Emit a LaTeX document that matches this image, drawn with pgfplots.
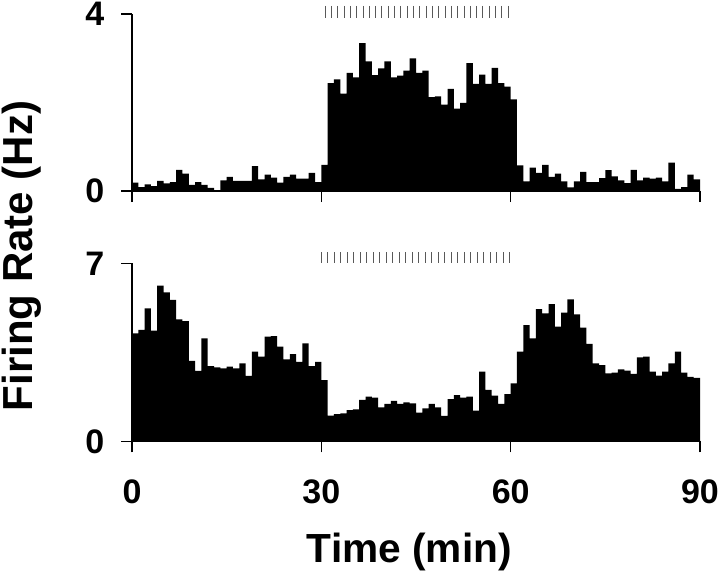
\documentclass[border=0pt]{standalone}
\usepackage{fontspec}
\setmainfont{Liberation Sans}
\setsansfont{Liberation Sans}
\usepackage{pgfplots}
\pgfplotsset{compat=1.18}
\begin{document}
\begin{tikzpicture}
\useasboundingbox (0,0) rectangle (540pt,-430.5pt);
\pgfplotsset{
  panel/.style={
    anchor=south west, width=426pt, scale only axis,
    xmin=0, xmax=90,
    axis x line*=bottom, axis y line*=left,
    xtick={0,30,60,90},
    tick align=outside, major tick length=8.25pt,
    axis line style={line width=1.1pt},
    tick style={line width=1.1pt, black},
    clip=false, axis on top,
    tick label style={font=\fontsize{25.5}{26}\selectfont\bfseries},
    yticklabel style={xshift=-9pt},
    xticklabel style={yshift=-17pt},
  }
}
% top panel
\begin{axis}[panel, at={(99pt,-143.25pt)}, height=132.75pt,
  ymin=0, ymax=4, ytick={0,4}, yticklabels={0,4}, xticklabels={}]
\addplot[fill=black, draw=none, const plot] coordinates {
(0,0.19)(1,0.09)(2,0.15)(3,0.11)(4,0.23)(5,0.17)(6,0.20)(7,0.48)(8,0.39)(9,0.14)
(10,0.20)(11,0.14)(12,0.07)(13,0.02)(14,0.24)(15,0.32)(16,0.23)(17,0.23)(18,0.23)(19,0.56)
(20,0.26)(21,0.37)(22,0.30)(23,0.19)(24,0.32)(25,0.37)(26,0.28)(27,0.28)(28,0.41)(29,0.20)
(30,0.59)(31,2.44)(32,2.52)(33,2.20)(34,2.67)(35,2.57)(36,3.34)(37,2.93)(38,2.62)(39,2.77)
(40,2.93)(41,2.57)(42,2.61)(43,2.72)(44,3.00)(45,2.67)(46,2.72)(47,2.12)(48,2.14)(49,1.95)
(50,2.31)(51,1.86)(52,1.99)(53,2.89)(54,2.42)(55,2.63)(56,2.42)(57,2.78)(58,2.44)(59,2.36)
(60,2.07)(61,0.58)(62,0.22)(63,0.53)(64,0.41)(65,0.59)(66,0.32)(67,0.39)(68,0.22)(69,0.08)
(70,0.22)(71,0.43)(72,0.20)(73,0.20)(74,0.29)(75,0.47)(76,0.33)(77,0.24)(78,0.18)(79,0.48)
(80,0.24)(81,0.30)(82,0.28)(83,0.30)(84,0.22)(85,0.64)(86,0.05)(87,0.09)(88,0.37)(89,0.26)
(90,0.26)} \closedcycle;
\addplot[only marks, mark=|, mark size=4.5pt, mark options={line width=0.7pt, draw=black!65}] coordinates {
(30.6,4.05)(31.6,4.05)(32.6,4.05)(33.6,4.05)(34.6,4.05)(35.6,4.05)(36.6,4.05)(37.6,4.05)(38.6,4.05)(39.6,4.05)
(40.6,4.05)(41.6,4.05)(42.6,4.05)(43.6,4.05)(44.6,4.05)(45.6,4.05)(46.6,4.05)(47.6,4.05)(48.6,4.05)(49.6,4.05)
(50.6,4.05)(51.6,4.05)(52.6,4.05)(53.6,4.05)(54.6,4.05)(55.6,4.05)(56.6,4.05)(57.6,4.05)(58.6,4.05)(59.6,4.05)};
\end{axis}
% bottom panel
\begin{axis}[panel, at={(99pt,-331pt)}, height=133.5pt,
  ymin=0, ymax=7, ytick={0,7}, yticklabels={0,7}, xticklabels={0,30,60,90}]
\addplot[fill=black, draw=none, const plot] coordinates {
(0,4.25)(1,4.38)(2,5.23)(3,4.35)(4,6.12)(5,5.86)(6,5.56)(7,4.80)(8,4.73)(9,3.16)
(10,2.77)(11,4.05)(12,2.96)(13,2.91)(14,2.87)(15,2.94)(16,2.87)(17,3.07)(18,2.57)(19,3.53)
(20,3.33)(21,4.12)(22,4.14)(23,3.72)(24,3.22)(25,3.43)(26,3.13)(27,3.85)(28,2.96)(29,3.13)
(30,2.41)(31,1.01)(32,1.07)(33,1.10)(34,1.23)(35,1.26)(36,1.63)(37,1.76)(38,1.72)(39,1.34)
(40,1.47)(41,1.59)(42,1.47)(43,1.53)(44,1.49)(45,1.13)(46,1.30)(47,1.47)(48,1.34)(49,1.00)
(50,1.66)(51,1.82)(52,1.72)(53,1.76)(54,1.21)(55,2.74)(56,2.02)(57,1.80)(58,1.47)(59,1.86)
(60,2.28)(61,3.53)(62,4.57)(63,4.05)(64,5.20)(65,5.03)(66,5.40)(67,4.51)(68,5.06)(69,5.58)
(70,4.99)(71,4.47)(72,3.83)(73,3.07)(74,3.00)(75,2.67)(76,2.70)(77,2.83)(78,2.78)(79,2.65)
(80,3.30)(81,3.33)(82,2.74)(83,2.58)(84,2.74)(85,3.07)(86,3.53)(87,2.70)(88,2.54)(89,2.50)
(90,2.50)} \closedcycle;
\addplot[only marks, mark=|, mark size=4.1pt, mark options={line width=0.7pt, draw=black!65}] coordinates {
(30.00,7.23)(31.03,7.23)(32.06,7.23)(33.09,7.23)(34.12,7.23)(35.15,7.23)(36.18,7.23)(37.21,7.23)(38.24,7.23)(39.27,7.23)
(40.30,7.23)(41.33,7.23)(42.36,7.23)(43.39,7.23)(44.42,7.23)(45.45,7.23)(46.48,7.23)(47.51,7.23)(48.54,7.23)(49.57,7.23)
(50.60,7.23)(51.63,7.23)(52.66,7.23)(53.69,7.23)(54.72,7.23)(55.75,7.23)(56.78,7.23)(57.81,7.23)(58.84,7.23)(59.87,7.23)};
\end{axis}
\node[rotate=90, anchor=base, inner sep=0pt, font=\fontsize{31.5}{32}\selectfont\bfseries] at (24pt,-192pt) {Firing Rate (Hz)};
\node[anchor=base, inner sep=0pt, font=\fontsize{30.5}{31}\selectfont\bfseries] at (307pt,-422pt) {Time (min)};
\end{tikzpicture}
\end{document}
